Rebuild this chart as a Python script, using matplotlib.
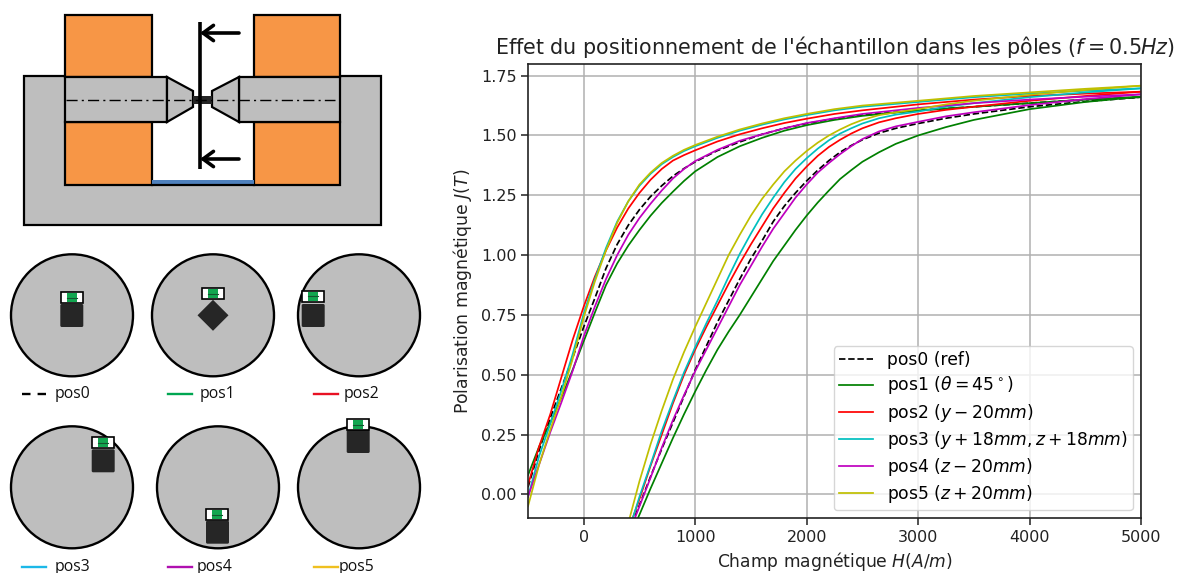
import matplotlib
matplotlib.use("Agg")
from matplotlib import pyplot as plt
from matplotlib.patches import Rectangle, Polygon, Circle, FancyBboxPatch

# %% curves

H_up = [-500, -400, -300, -200, -100, 0, 100, 200, 300, 400, 500, 600, 700, 800, 900, 1000, 1200, 1400, 1600, 1800, 2000, 2250, 2500, 3000, 3500, 4000, 4500, 5000]
H_lo = [400, 500, 600, 700, 800, 900, 1000, 1100, 1200, 1300, 1400, 1500, 1600, 1700, 1800, 1900, 2000, 2100, 2200, 2300, 2400, 2500, 2650, 2800, 3000, 3250, 3500, 4000, 4500, 5000]

pos0_up = [0.03, 0.185, 0.32, 0.445, 0.57, 0.70, 0.82, 0.945, 1.045, 1.125, 1.19, 1.245, 1.29, 1.33, 1.362, 1.39, 1.437, 1.473, 1.505, 1.53, 1.55, 1.57, 1.585, 1.605, 1.62, 1.635, 1.65, 1.66]
pos1_up = [0.08, 0.20, 0.30, 0.405, 0.52, 0.64, 0.76, 0.875, 0.965, 1.04, 1.105, 1.165, 1.218, 1.265, 1.31, 1.35, 1.41, 1.455, 1.49, 1.52, 1.543, 1.565, 1.582, 1.605, 1.62, 1.635, 1.65, 1.662]
pos2_up = [0.04, 0.20, 0.335, 0.49, 0.645, 0.785, 0.91, 1.02, 1.115, 1.195, 1.26, 1.315, 1.36, 1.395, 1.418, 1.438, 1.475, 1.505, 1.53, 1.552, 1.57, 1.59, 1.605, 1.63, 1.65, 1.665, 1.675, 1.683]
pos3_up = [-0.01, 0.16, 0.295, 0.435, 0.585, 0.755, 0.90, 1.03, 1.14, 1.225, 1.29, 1.34, 1.38, 1.41, 1.435, 1.455, 1.49, 1.52, 1.545, 1.567, 1.585, 1.605, 1.62, 1.64, 1.66, 1.675, 1.687, 1.697]
pos4_up = [-0.01, 0.125, 0.26, 0.385, 0.515, 0.66, 0.785, 0.90, 1.00, 1.085, 1.155, 1.215, 1.27, 1.32, 1.36, 1.393, 1.44, 1.478, 1.505, 1.53, 1.552, 1.572, 1.59, 1.615, 1.635, 1.65, 1.662, 1.672]
pos5_up = [-0.05, 0.125, 0.27, 0.41, 0.565, 0.74, 0.89, 1.02, 1.135, 1.225, 1.295, 1.345, 1.385, 1.415, 1.44, 1.46, 1.495, 1.525, 1.55, 1.572, 1.59, 1.61, 1.625, 1.645, 1.665, 1.68, 1.695, 1.708]

pos0_lo = [-0.16, -0.045, 0.075, 0.19, 0.30, 0.41, 0.52, 0.62, 0.72, 0.81, 0.90, 0.985, 1.06, 1.14, 1.205, 1.26, 1.31, 1.355, 1.395, 1.43, 1.458, 1.482, 1.51, 1.53, 1.55, 1.572, 1.59, 1.62, 1.642, 1.66]
pos1_lo = [-0.19, -0.085, 0.025, 0.13, 0.235, 0.335, 0.43, 0.52, 0.605, 0.68, 0.75, 0.825, 0.90, 0.975, 1.04, 1.105, 1.165, 1.22, 1.27, 1.318, 1.355, 1.39, 1.43, 1.465, 1.50, 1.535, 1.565, 1.61, 1.64, 1.662]
pos2_lo = [-0.15, -0.02, 0.12, 0.25, 0.38, 0.50, 0.605, 0.70, 0.79, 0.88, 0.965, 1.045, 1.12, 1.195, 1.26, 1.32, 1.37, 1.415, 1.452, 1.482, 1.508, 1.53, 1.555, 1.572, 1.59, 1.607, 1.62, 1.645, 1.665, 1.683]
pos3_lo = [-0.16, -0.01, 0.125, 0.265, 0.39, 0.51, 0.615, 0.715, 0.81, 0.91, 1.005, 1.09, 1.17, 1.24, 1.305, 1.36, 1.405, 1.445, 1.48, 1.508, 1.53, 1.55, 1.572, 1.587, 1.60, 1.62, 1.635, 1.66, 1.68, 1.697]
pos4_lo = [-0.17, -0.05, 0.07, 0.195, 0.31, 0.415, 0.515, 0.605, 0.695, 0.785, 0.875, 0.955, 1.035, 1.11, 1.175, 1.24, 1.295, 1.345, 1.385, 1.422, 1.455, 1.485, 1.517, 1.538, 1.557, 1.58, 1.597, 1.627, 1.652, 1.672]
pos5_lo = [-0.12, 0.055, 0.21, 0.35, 0.48, 0.595, 0.70, 0.80, 0.90, 1.00, 1.085, 1.165, 1.235, 1.295, 1.35, 1.395, 1.435, 1.47, 1.50, 1.525, 1.547, 1.565, 1.585, 1.597, 1.61, 1.63, 1.645, 1.67, 1.69, 1.708]

labels = [
    "pos0 (ref)",
    r"pos1 ($\theta = 45^\circ$)",
    r"pos2 ($y - 20mm$)",
    r"pos3 ($y + 18mm, z + 18mm$)",
    r"pos4 ($z - 20mm$)",
    r"pos5 ($z + 20mm$)",
]

# %% figure

fig = plt.figure(figsize=(11.77, 5.73), dpi=100)

ax = fig.add_axes([528 / 1177, 1 - 518.3 / 573, 613 / 1177, 454.6 / 573])

curves = [
    (pos0_up, pos0_lo, "k", "--"),
    (pos1_up, pos1_lo, "g", "-"),
    (pos2_up, pos2_lo, "r", "-"),
    (pos3_up, pos3_lo, "c", "-"),
    (pos4_up, pos4_lo, "m", "-"),
    (pos5_up, pos5_lo, "y", "-"),
]
for (up, lo, col, ls), label in zip(curves, labels):
    ax.plot(H_up, up, color=col, ls=ls, lw=1.25, label=label)
    ax.plot(H_lo, lo, color=col, ls=ls, lw=1.25)

ax.set_xlim(-500, 5000)
ax.set_ylim(-0.1, 1.8)
ax.set_yticks([0, 0.25, 0.5, 0.75, 1.0, 1.25, 1.5, 1.75])
ax.set_yticklabels(["0.00", "0.25", "0.50", "0.75", "1.00", "1.25", "1.50", "1.75"])
ax.grid(True, color="#b0b0b0", lw=1.1)
ax.tick_params(labelsize=11.5, width=1.1, length=4.7, colors="#222222")
for s in ax.spines.values():
    s.set_linewidth(1.2)
    s.set_color("#222222")
ax.set_xlabel(r"Champ magnétique $H(A/m)$", fontsize=12.3, labelpad=3.5, color="#222222")
ax.set_ylabel(r"Polarisation magnétique $J(T)$", fontsize=12.4, labelpad=5, color="#222222")
ax.set_title(r"Effet du positionnement de l'échantillon dans les pôles ($f = 0.5Hz$)", fontsize=14.85, pad=7, color="#222222")
ax.legend(loc="lower right", fontsize=12.3, labelspacing=0.3, borderpad=0.3, bbox_to_anchor=(0.9865, 0.018), borderaxespad=0)

# %% left schematics, drawn in pixel coordinates

sk = fig.add_axes([0, 0, 1, 1], zorder=-1)
sk.set_xlim(0, 1177)
sk.set_ylim(573, 0)
sk.axis("off")

GRAY = "#bebebe"
ORANGE = "#f79646"
DARK = "#262626"
GREEN = "#12a650"
EDGE = dict(edgecolor="k", lw=1.6)


def rect(x0, y0, x1, y1, color, **kw):
    sk.add_patch(Rectangle((x0, y0), x1 - x0, y1 - y0, facecolor=color, **kw))


sk.add_patch(Polygon([(24, 76), (381, 76), (381, 225), (24, 225)], facecolor=GRAY, **EDGE))
rect(152, 70, 254, 185, "white")
rect(65, 15, 152, 77, ORANGE, **EDGE)
rect(254, 15, 340, 77, ORANGE, **EDGE)
rect(65, 122, 152, 185, ORANGE, **EDGE)
rect(254, 122, 340, 185, ORANGE, **EDGE)
sk.plot([152, 254], [185, 185], color="k", lw=1.6)
rect(152, 179.5, 254, 184, "#4f81bd")
rect(65, 77, 167, 122, GRAY, **EDGE)
rect(239, 77, 340, 122, GRAY, **EDGE)
sk.add_patch(Polygon([(167, 77), (193, 91), (193, 107), (167, 122)], facecolor=GRAY, **EDGE))
sk.add_patch(Polygon([(239, 77), (212, 91), (212, 107), (239, 122)], facecolor=GRAY, **EDGE))
sk.plot([66, 335], [100, 100], color="k", lw=1, ls=(0, (8, 3, 1.5, 3)))
rect(193, 96, 212, 103.5, DARK)
sk.plot([200, 200], [22, 169], color="k", lw=2.6, solid_capstyle="butt")
for y in [33, 159]:
    sk.annotate("", xy=(200, y), xytext=(239, y),
                arrowprops=dict(arrowstyle="->,head_length=0.75,head_width=0.55", color="k", lw=2.6, shrinkA=0, shrinkB=0))

# center x, center y of the disc, then left and top of the sensor
discs = [
    (72, 315.3, 60.7, 292.3),
    (213, 315.3, 201.5, 288.3),
    (359, 315.3, 302, 290.7),
    (72, 487.3, 92, 437.3),
    (218, 487.3, 206.3, 509.3),
    (359, 487.3, 347.3, 419.3),
]
blocks = [(60.3, 304), None, (301.7, 304), (91.7, 449.3), (206, 520.7), (346.7, 430)]

for (cx, cy, sx, sy), block in zip(discs, blocks):
    sk.add_patch(Circle((cx, cy), 61, facecolor=GRAY, edgecolor="k", lw=1.7))
    if block is None:
        sk.add_patch(Polygon([(cx, cy - 15.5), (cx + 15.5, cy), (cx, cy + 15.5), (cx - 15.5, cy)], facecolor=DARK, edgecolor="none"))
    else:
        sk.add_patch(FancyBboxPatch((block[0] + 1, block[1] + 1), 21, 21, boxstyle="round,pad=1,rounding_size=1.5", facecolor=DARK, edgecolor="none"))
    rect(sx, sy, sx + 22, sy + 11, "white", edgecolor="k", lw=1.2)
    rect(sx + 6, sy + 1, sx + 16, sy + 10, GREEN)
    sk.plot([sx + 6, sx + 16], [sy + 5.5, sy + 5.5], color="#14552f", lw=0.8)

legend_left = [
    (21.7, 46, 55, 394, "k", "pos0"),
    (168, 192, 200, 394, "#00a651", "pos1"),
    (314, 338, 344, 394, "#e81123", "pos2"),
    (22, 46, 55, 567, "#1cb8e8", "pos3"),
    (168, 192, 197, 567, "#b010b0", "pos4"),
    (314, 338, 339, 567, "#efc020", "pos5"),
]
for x0, x1, xt, y, col, name in legend_left:
    ls = (0, (3.6, 3)) if name == "pos0" else "-"
    sk.plot([x0, x1], [y, y], color=col, lw=1.7, ls=ls)
    sk.text(xt, y, name, fontsize=11.3, family="Open Sans", color="#111111", va="center", ha="left")

fig.savefig("out.png", dpi=100)
